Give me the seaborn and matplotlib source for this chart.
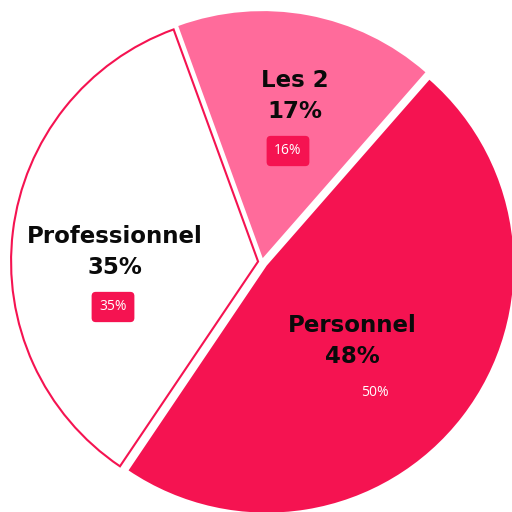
import matplotlib.pyplot as plt
import seaborn as sns

labels = ['Les 2', 'Personnel', 'Professionnel']
shares = [17, 48, 35]
previous = [16, 50, 35]

sns.set_theme(style='white')
plt.rcParams['font.family'] = ['DejaVu Sans']

red = '#f51351'
colors = ['#ff6b9b', red, '#ffffff']

fig = plt.figure(figsize=(5.12, 5.12), dpi=100)
ax = fig.add_axes([0, 0, 1, 1])
wedges, _ = ax.pie(shares, colors=colors, startangle=110, counterclock=False,
                   explode=[0.016, 0.024, 0.016], radius=1,
                   wedgeprops=dict(linewidth=0))
wedges[2].set_edgecolor(red)
wedges[2].set_linewidth(1.5)

# label placement (pixel positions)
label_px = [(295, 96), (352, 341), (115, 252)]
badge_px = [(288, 151), (375, 392), (113, 307)]


def to_data(p):
    return (p[0] - 262) / 247, (262 - p[1]) / 247


for lab, share, prev, lp, bp in zip(labels, shares, previous, label_px, badge_px):
    x, y = to_data(lp)
    ax.text(x, y, f'{lab}\n{share}%', ha='center', va='center',
            fontsize=16.5, fontweight='bold', color='#0a0a0a', linespacing=1.45)
    bx, by = to_data(bp)
    ax.text(bx, by, f'{prev}%', ha='center', va='center', fontsize=10,
            color='white', family=['Open Sans', 'DejaVu Sans'],
            bbox=dict(boxstyle='round,pad=0.55,rounding_size=0.3',
                      facecolor=red, edgecolor='none'))

ax.set_xlim(-262 / 247, 250 / 247)
ax.set_ylim(-250 / 247, 262 / 247)
ax.axis('off')
fig.savefig('out.png', dpi=100)
